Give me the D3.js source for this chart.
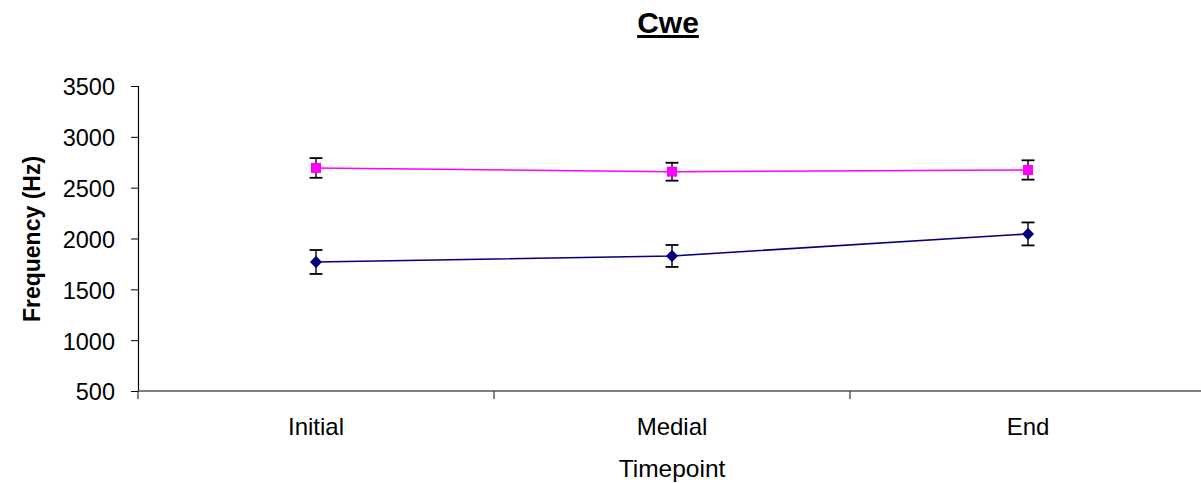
<!DOCTYPE html>
<html>
<head>
<meta charset="utf-8">
<script src="https://cdn.jsdelivr.net/npm/d3@7"></script>
<style>
  html, body { margin: 0; padding: 0; background: #fff; }
  svg { display: block; font-family: "Liberation Sans", Arial, sans-serif; }
</style>
</head>
<body>
<svg id="chart" width="1201" height="483"></svg>
<script>
const categories = ["Initial", "Medial", "End"];
const seriesUpper = [2694, 2657, 2674];
const errUpper = [97, 88, 95];
const seriesLower = [1769, 1828, 2045];
const errLower = [118, 108, 113];
const yTicks = [500, 1000, 1500, 2000, 2500, 3000, 3500];
const titleText = "Cwe";
const xTitle = "Timepoint";
const yTitle = "Frequency (Hz)";

(function () {
const FONT = "Liberation Sans, Arial, sans-serif";
const svg = d3.select("#chart");
const plotLeft = 138, plotTop = 86, plotBottom = 391, bandW = 356;
const plotRight = plotLeft + bandW * categories.length;

const x = d3.scaleBand().domain(categories).range([plotLeft, plotRight]).padding(0);
const y = d3.scaleLinear().domain([500, 3500]).range([plotBottom, plotTop]);

// Y axis
const yAxis = d3.axisLeft(y).tickValues(yTicks).tickFormat(d3.format("d")).tickSize(7).tickPadding(16);
const gy = svg.append("g").attr("transform", `translate(${plotLeft},0)`).call(yAxis);
gy.attr("font-size", null).attr("font-family", null);
gy.select(".domain").attr("stroke", "#000").attr("stroke-width", 1.2);
gy.selectAll(".tick line").attr("stroke", "#000");
gy.selectAll("text").style("font-size", "23.5px").attr("fill", "#000").style("font-family", FONT).attr("dy", "0.38em");

// X axis line with tick marks at band boundaries
svg.append("line").attr("x1", plotLeft).attr("x2", 1201).attr("y1", plotBottom).attr("y2", plotBottom)
  .attr("stroke", "#555").attr("stroke-width", 1.5);
const bounds = categories.map(c => x(c)).concat([plotRight]);
svg.selectAll(".xtick").data(bounds).enter().append("line")
  .attr("x1", d => d).attr("x2", d => d)
  .attr("y1", plotBottom).attr("y2", plotBottom + 8)
  .attr("stroke", "#333").attr("stroke-width", 1.2);
svg.selectAll(".xlab").data(categories).enter().append("text")
  .attr("x", d => x(d) + x.bandwidth() / 2)
  .attr("y", 435)
  .attr("text-anchor", "middle")
  .style("font-size", "24px")
  .text(d => d);

// Titles
svg.append("text").attr("x", 668).attr("y", 33).attr("text-anchor", "middle")
  .style("font-size", "30px").attr("font-weight", "bold").attr("text-decoration", "underline").text(titleText);
svg.append("text").attr("x", 672).attr("y", 477).attr("text-anchor", "middle")
  .style("font-size", "24.5px").text(xTitle);
svg.append("text").attr("transform", "translate(40,239) rotate(-90)").attr("text-anchor", "middle")
  .style("font-size", "23px").attr("font-weight", "bold").text(yTitle);

const cx = c => x(c) + x.bandwidth() / 2;

const diamond = {
  draw(ctx, size) {
    const r = Math.sqrt(size / 2);
    ctx.moveTo(0, -r * 1.05); ctx.lineTo(r, 0); ctx.lineTo(0, r * 1.05); ctx.lineTo(-r, 0); ctx.closePath();
  }
};

function drawSeries(vals, errs, color, shape, size) {
  const pts = categories.map((c, i) => ({ c, v: vals[i], e: errs[i] }));
  svg.append("path").datum(pts)
    .attr("d", d3.line().x(d => cx(d.c)).y(d => y(d.v)))
    .attr("fill", "none").attr("stroke", color).attr("stroke-width", 1.6);
  const g = svg.append("g");
  pts.forEach(d => {
    const X = cx(d.c);
    g.append("line").attr("x1", X).attr("x2", X).attr("y1", y(d.v + d.e)).attr("y2", y(d.v - d.e))
      .attr("stroke", "#000").attr("stroke-width", 1.4);
    [d.v + d.e, d.v - d.e].forEach(v => {
      g.append("line").attr("x1", X - 6.5).attr("x2", X + 6.5).attr("y1", y(v)).attr("y2", y(v))
        .attr("stroke", "#000").attr("stroke-width", 1.8);
    });
  });
  svg.append("g").selectAll("path").data(pts).enter().append("path")
    .attr("transform", d => `translate(${cx(d.c)},${y(d.v)})`)
    .attr("d", d3.symbol().type(shape).size(size))
    .attr("fill", color);
}

drawSeries(seriesUpper, errUpper, "#ff00ff", d3.symbolSquare, 100);
drawSeries(seriesLower, errLower, "#000080", diamond, 72);
})();
</script>
</body>
</html>
